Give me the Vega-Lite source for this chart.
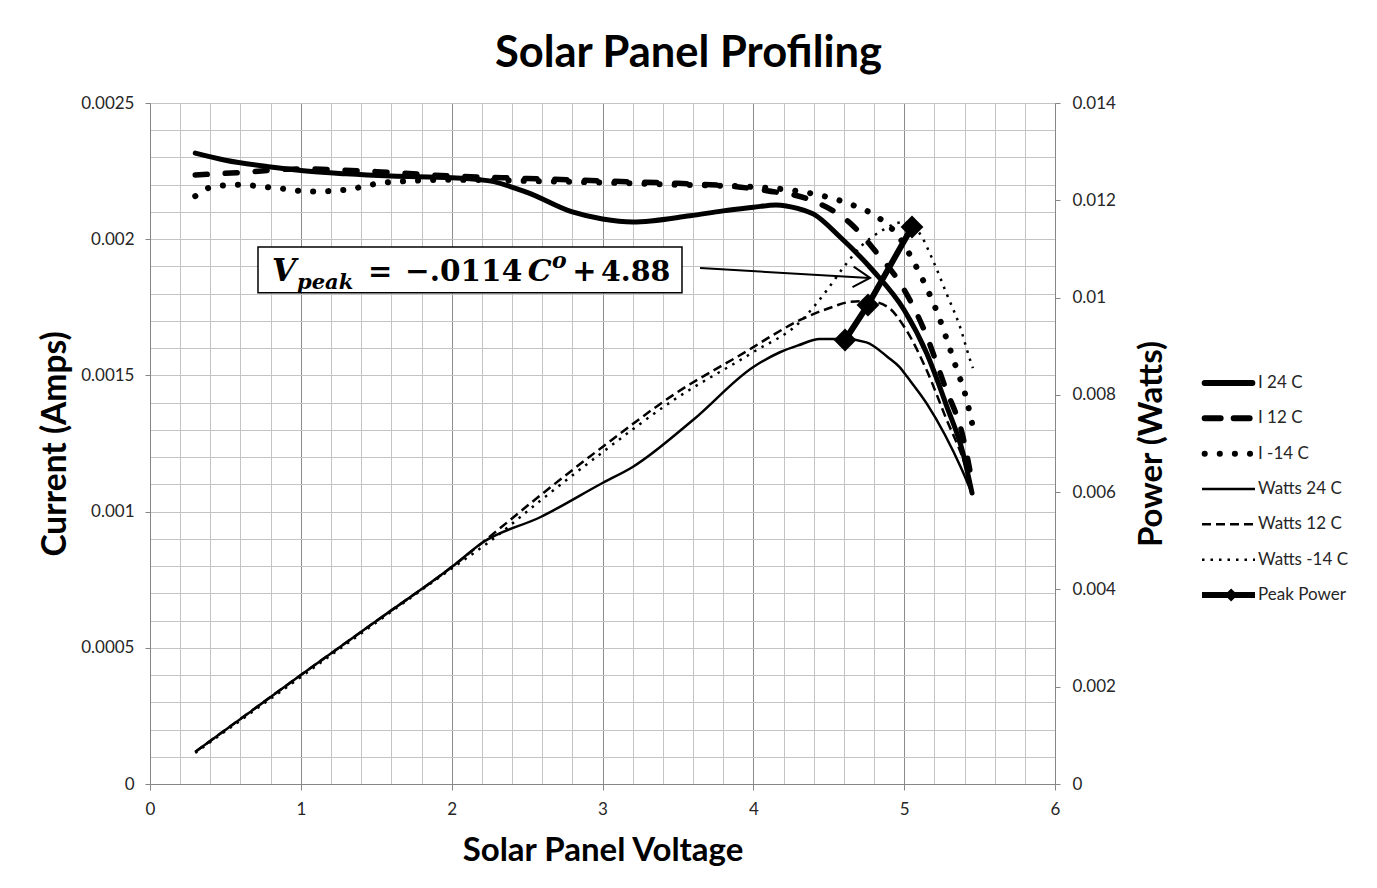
{
  "$schema": "https://vega.github.io/schema/vega-lite/v6.json",
  "width": 905,
  "height": 681,
  "autosize": {"type": "none"},
  "padding": {"left": 150, "top": 103, "right": 322, "bottom": 104},
  "background": "white",
  "config": {
    "font": "Lato",
    "view": {"stroke": "#868686", "strokeWidth": 1}
  },
  "title": {
    "text": "Solar Panel Profiling",
    "font": "Lato",
    "fontSize": 43.5,
    "fontWeight": "bold",
    "color": "black",
    "anchor": "middle",
    "frame": "group",
    "dx": 86,
    "offset": 18
  },
  "data": {
    "values": [
      {"series": "I 24 C", "voltage": 0.3, "value": 0.002316},
      {"series": "I 24 C", "voltage": 0.5, "value": 0.00229},
      {"series": "I 24 C", "voltage": 0.8, "value": 0.002265},
      {"series": "I 24 C", "voltage": 1.0, "value": 0.002252},
      {"series": "I 24 C", "voltage": 1.3, "value": 0.00224},
      {"series": "I 24 C", "voltage": 1.6, "value": 0.002232},
      {"series": "I 24 C", "voltage": 2.0, "value": 0.002226},
      {"series": "I 24 C", "voltage": 2.25, "value": 0.002214},
      {"series": "I 24 C", "voltage": 2.5, "value": 0.002172},
      {"series": "I 24 C", "voltage": 2.8, "value": 0.0021},
      {"series": "I 24 C", "voltage": 3.0, "value": 0.002074},
      {"series": "I 24 C", "voltage": 3.2, "value": 0.002063},
      {"series": "I 24 C", "voltage": 3.58, "value": 0.002086},
      {"series": "I 24 C", "voltage": 3.8, "value": 0.002104},
      {"series": "I 24 C", "voltage": 4.0, "value": 0.002117},
      {"series": "I 24 C", "voltage": 4.15, "value": 0.002126},
      {"series": "I 24 C", "voltage": 4.3, "value": 0.002112},
      {"series": "I 24 C", "voltage": 4.4, "value": 0.002092},
      {"series": "I 24 C", "voltage": 4.575, "value": 0.002008},
      {"series": "I 24 C", "voltage": 4.79, "value": 0.001887},
      {"series": "I 24 C", "voltage": 5.0, "value": 0.00174},
      {"series": "I 24 C", "voltage": 5.15, "value": 0.00158},
      {"series": "I 24 C", "voltage": 5.28, "value": 0.00139},
      {"series": "I 24 C", "voltage": 5.39, "value": 0.001215},
      {"series": "I 24 C", "voltage": 5.45, "value": 0.001068},

      {"series": "I 12 C", "voltage": 0.3, "value": 0.002236},
      {"series": "I 12 C", "voltage": 0.6, "value": 0.002245},
      {"series": "I 12 C", "voltage": 1.0, "value": 0.002258},
      {"series": "I 12 C", "voltage": 1.5, "value": 0.002248},
      {"series": "I 12 C", "voltage": 2.0, "value": 0.002232},
      {"series": "I 12 C", "voltage": 2.5, "value": 0.002223},
      {"series": "I 12 C", "voltage": 3.0, "value": 0.002214},
      {"series": "I 12 C", "voltage": 3.5, "value": 0.002205},
      {"series": "I 12 C", "voltage": 3.8, "value": 0.002197},
      {"series": "I 12 C", "voltage": 4.09, "value": 0.002178},
      {"series": "I 12 C", "voltage": 4.38, "value": 0.002144},
      {"series": "I 12 C", "voltage": 4.64, "value": 0.00206},
      {"series": "I 12 C", "voltage": 4.84, "value": 0.001935},
      {"series": "I 12 C", "voltage": 4.96, "value": 0.00185},
      {"series": "I 12 C", "voltage": 5.13, "value": 0.00167},
      {"series": "I 12 C", "voltage": 5.27, "value": 0.00146},
      {"series": "I 12 C", "voltage": 5.39, "value": 0.001274},
      {"series": "I 12 C", "voltage": 5.45, "value": 0.00111},

      {"series": "I -14 C", "voltage": 0.3, "value": 0.002158},
      {"series": "I -14 C", "voltage": 0.4, "value": 0.00219},
      {"series": "I -14 C", "voltage": 0.58, "value": 0.0022},
      {"series": "I -14 C", "voltage": 0.8, "value": 0.00219},
      {"series": "I -14 C", "voltage": 1.08, "value": 0.002175},
      {"series": "I -14 C", "voltage": 1.3, "value": 0.002182},
      {"series": "I -14 C", "voltage": 1.56, "value": 0.002208},
      {"series": "I -14 C", "voltage": 2.0, "value": 0.002218},
      {"series": "I -14 C", "voltage": 2.5, "value": 0.002214},
      {"series": "I -14 C", "voltage": 3.0, "value": 0.002208},
      {"series": "I -14 C", "voltage": 3.5, "value": 0.0022},
      {"series": "I -14 C", "voltage": 4.0, "value": 0.002192},
      {"series": "I -14 C", "voltage": 4.25, "value": 0.00218},
      {"series": "I -14 C", "voltage": 4.49, "value": 0.002155},
      {"series": "I -14 C", "voltage": 4.66, "value": 0.002125},
      {"series": "I -14 C", "voltage": 4.84, "value": 0.002075},
      {"series": "I -14 C", "voltage": 4.97, "value": 0.002005},
      {"series": "I -14 C", "voltage": 5.06, "value": 0.00192},
      {"series": "I -14 C", "voltage": 5.15, "value": 0.00182},
      {"series": "I -14 C", "voltage": 5.22, "value": 0.00173},
      {"series": "I -14 C", "voltage": 5.29, "value": 0.00162},
      {"series": "I -14 C", "voltage": 5.35, "value": 0.00152},
      {"series": "I -14 C", "voltage": 5.4, "value": 0.00144},
      {"series": "I -14 C", "voltage": 5.456, "value": 0.00131},

      {"series": "Watts 24 C", "voltage": 0.3, "value": 0.00066},
      {"series": "Watts 24 C", "voltage": 1.0, "value": 0.00224},
      {"series": "Watts 24 C", "voltage": 1.5, "value": 0.00335},
      {"series": "Watts 24 C", "voltage": 2.0, "value": 0.00446},
      {"series": "Watts 24 C", "voltage": 2.21, "value": 0.004975},
      {"series": "Watts 24 C", "voltage": 2.59, "value": 0.005489},
      {"series": "Watts 24 C", "voltage": 3.0, "value": 0.006188},
      {"series": "Watts 24 C", "voltage": 3.2, "value": 0.006517},
      {"series": "Watts 24 C", "voltage": 3.6, "value": 0.007483},
      {"series": "Watts 24 C", "voltage": 4.0, "value": 0.008573},
      {"series": "Watts 24 C", "voltage": 4.18, "value": 0.008881},
      {"series": "Watts 24 C", "voltage": 4.3, "value": 0.00902},
      {"series": "Watts 24 C", "voltage": 4.44, "value": 0.00915},
      {"series": "Watts 24 C", "voltage": 4.6, "value": 0.00915},
      {"series": "Watts 24 C", "voltage": 4.75, "value": 0.00908},
      {"series": "Watts 24 C", "voltage": 4.89, "value": 0.00878},
      {"series": "Watts 24 C", "voltage": 4.97, "value": 0.00857},
      {"series": "Watts 24 C", "voltage": 5.02, "value": 0.00837},
      {"series": "Watts 24 C", "voltage": 5.15, "value": 0.00782},
      {"series": "Watts 24 C", "voltage": 5.27, "value": 0.00718},
      {"series": "Watts 24 C", "voltage": 5.38, "value": 0.00648},
      {"series": "Watts 24 C", "voltage": 5.45, "value": 0.00597},

      {"series": "Watts 12 C", "voltage": 0.3, "value": 0.00066},
      {"series": "Watts 12 C", "voltage": 1.0, "value": 0.00224},
      {"series": "Watts 12 C", "voltage": 1.5, "value": 0.00335},
      {"series": "Watts 12 C", "voltage": 2.0, "value": 0.00446},
      {"series": "Watts 12 C", "voltage": 2.25, "value": 0.00508},
      {"series": "Watts 12 C", "voltage": 2.59, "value": 0.00594},
      {"series": "Watts 12 C", "voltage": 3.0, "value": 0.00693},
      {"series": "Watts 12 C", "voltage": 3.47, "value": 0.008},
      {"series": "Watts 12 C", "voltage": 4.0, "value": 0.00898},
      {"series": "Watts 12 C", "voltage": 4.13, "value": 0.00923},
      {"series": "Watts 12 C", "voltage": 4.31, "value": 0.00954},
      {"series": "Watts 12 C", "voltage": 4.5, "value": 0.00978},
      {"series": "Watts 12 C", "voltage": 4.64, "value": 0.00991},
      {"series": "Watts 12 C", "voltage": 4.76, "value": 0.00993},
      {"series": "Watts 12 C", "voltage": 4.89, "value": 0.00981},
      {"series": "Watts 12 C", "voltage": 5.0, "value": 0.0094},
      {"series": "Watts 12 C", "voltage": 5.15, "value": 0.0085},
      {"series": "Watts 12 C", "voltage": 5.28, "value": 0.0075},
      {"series": "Watts 12 C", "voltage": 5.4, "value": 0.0066},
      {"series": "Watts 12 C", "voltage": 5.45, "value": 0.0061},

      {"series": "Watts -14 C", "voltage": 0.3, "value": 0.00064},
      {"series": "Watts -14 C", "voltage": 1.0, "value": 0.0022},
      {"series": "Watts -14 C", "voltage": 1.5, "value": 0.00332},
      {"series": "Watts -14 C", "voltage": 2.0, "value": 0.00443},
      {"series": "Watts -14 C", "voltage": 2.25, "value": 0.00498},
      {"series": "Watts -14 C", "voltage": 2.59, "value": 0.00583},
      {"series": "Watts -14 C", "voltage": 3.0, "value": 0.00682},
      {"series": "Watts -14 C", "voltage": 3.47, "value": 0.00789},
      {"series": "Watts -14 C", "voltage": 4.0, "value": 0.00888},
      {"series": "Watts -14 C", "voltage": 4.31, "value": 0.0095},
      {"series": "Watts -14 C", "voltage": 4.49, "value": 0.01016},
      {"series": "Watts -14 C", "voltage": 4.6, "value": 0.01063},
      {"series": "Watts -14 C", "voltage": 4.71, "value": 0.01104},
      {"series": "Watts -14 C", "voltage": 4.86, "value": 0.01139},
      {"series": "Watts -14 C", "voltage": 4.99, "value": 0.01155},
      {"series": "Watts -14 C", "voltage": 5.1, "value": 0.01133},
      {"series": "Watts -14 C", "voltage": 5.19, "value": 0.01077},
      {"series": "Watts -14 C", "voltage": 5.28, "value": 0.01009},
      {"series": "Watts -14 C", "voltage": 5.37, "value": 0.0094},
      {"series": "Watts -14 C", "voltage": 5.437, "value": 0.00872},
      {"series": "Watts -14 C", "voltage": 5.456, "value": 0.00855},

      {"series": "Peak Power", "voltage": 4.608, "value": 0.009128},
      {"series": "Peak Power", "voltage": 4.76, "value": 0.009847},
      {"series": "Peak Power", "voltage": 5.052, "value": 0.011451}
    ]
  },
  "layer": [
    {
      "encoding": {
        "x": {
          "field": "voltage",
          "type": "quantitative",
          "scale": {"domain": [0, 6], "nice": false, "zero": false},
          "axis": {
            "title": "Solar Panel Voltage",
            "values": [0, 0.2, 0.4, 0.6, 0.8, 1, 1.2, 1.4, 1.6, 1.8, 2, 2.2, 2.4, 2.6, 2.8, 3, 3.2, 3.4, 3.6, 3.8, 4, 4.2, 4.4, 4.6, 4.8, 5, 5.2, 5.4, 5.6, 5.8, 6],
            "grid": true,
            "gridColor": {"condition": {"test": "abs(datum.value - round(datum.value)) < 0.001", "value": "#8c8c8c"}, "value": "#c4c4c4"},
            "gridWidth": 1,
            "domainColor": "#868686",
            "tickColor": "#868686",
            "tickSize": 6,
            "tickOpacity": {"condition": {"test": "abs(datum.value - round(datum.value)) < 0.001", "value": 1}, "value": 0},
            "labelExpr": "abs(datum.value - round(datum.value)) < 0.001 ? format(datum.value, '.0f') : ''",
            "labelFlush": false,
            "labelOverlap": false,
            "labelFont": "Lato",
            "labelFontSize": 17,
            "labelColor": "#262626",
            "labelPadding": 11,
            "titleFont": "Lato",
            "titleFontSize": 33,
            "titleFontWeight": "bold",
            "titleColor": "black",
            "titlePadding": 17
          }
        },
        "y": {
          "field": "value",
          "type": "quantitative",
          "scale": {"domain": [0, 0.0025], "nice": false, "zero": false},
          "axis": {
            "title": "Current (Amps)",
            "orient": "left",
            "values": [0, 0.0001, 0.0002, 0.0003, 0.0004, 0.0005, 0.0006, 0.0007, 0.0008, 0.0009, 0.001, 0.0011, 0.0012, 0.0013, 0.0014, 0.0015, 0.0016, 0.0017, 0.0018, 0.0019, 0.002, 0.0021, 0.0022, 0.0023, 0.0024, 0.0025],
            "grid": true,
            "gridColor": "#c4c4c4",
            "gridWidth": 1,
            "domainColor": "#868686",
            "tickColor": "#868686",
            "tickSize": 5,
            "tickOpacity": {"condition": {"test": "round(datum.value * 10000) % 5 === 0", "value": 1}, "value": 0},
            "labelExpr": "round(datum.value * 10000) % 5 === 0 ? format(datum.value, '~g') : ''",
            "labelOverlap": false,
            "labelFlush": false,
            "labelFont": "Lato",
            "labelFontSize": 17,
            "labelColor": "#262626",
            "labelPadding": 11,
            "titleFont": "Lato",
            "titleFontSize": 33.5,
            "titleFontWeight": "bold",
            "titleColor": "black",
            "titlePadding": 8
          }
        }
      },
      "layer": [
        {
          "transform": [{"filter": "datum.series === 'I 24 C'"}],
          "mark": {"type": "line", "color": "black", "strokeWidth": 5, "strokeCap": "round", "interpolate": "monotone"}
        },
        {
          "transform": [{"filter": "datum.series === 'I 12 C'"}],
          "mark": {"type": "line", "color": "black", "strokeWidth": 5.5, "strokeCap": "round", "strokeDash": [12, 18], "interpolate": "monotone"}
        },
        {
          "transform": [{"filter": "datum.series === 'I -14 C'"}],
          "mark": {"type": "line", "color": "black", "strokeWidth": 6, "strokeCap": "round", "strokeDash": [0.1, 15], "interpolate": "monotone"}
        }
      ]
    },
    {
      "transform": [{"aggregate": [{"op": "count", "as": "n"}]}],
      "layer": [
        {
          "mark": {"type": "rect", "fill": "white", "stroke": "black", "strokeWidth": 1.5},
          "encoding": {
            "x": {"datum": 0.716, "scale": {"domain": [0, 6], "nice": false, "zero": false}, "axis": null},
            "x2": {"datum": 3.527},
            "y": {"datum": 0.001971, "scale": {"domain": [0, 0.0025], "nice": false, "zero": false}, "axis": null},
            "y2": {"datum": 0.001803}
          }
        },
        {
          "mark": {"type": "text", "text": "V", "font": "DejaVu Serif", "fontSize": 31, "fontWeight": "bold", "fontStyle": "italic", "align": "left", "baseline": "alphabetic", "color": "black"},
          "encoding": {"x": {"datum": 0.809, "axis": null}, "y": {"datum": 0.001847, "axis": null}}
        },
        {
          "mark": {"type": "text", "text": "peak", "font": "DejaVu Serif", "fontSize": 21, "fontWeight": "bold", "fontStyle": "italic", "align": "left", "baseline": "alphabetic", "color": "black"},
          "encoding": {"x": {"datum": 0.975, "axis": null}, "y": {"datum": 0.001817, "axis": null}}
        },
        {
          "mark": {"type": "text", "text": "=", "font": "DejaVu Serif", "fontSize": 29, "fontWeight": "bold", "align": "left", "baseline": "alphabetic", "color": "black"},
          "encoding": {"x": {"datum": 1.445, "axis": null}, "y": {"datum": 0.001847, "axis": null}}
        },
        {
          "mark": {"type": "text", "text": "−.0114", "font": "DejaVu Serif", "fontSize": 29.5, "fontWeight": "bold", "align": "left", "baseline": "alphabetic", "color": "black"},
          "encoding": {"x": {"datum": 1.691, "axis": null}, "y": {"datum": 0.001847, "axis": null}}
        },
        {
          "mark": {"type": "text", "text": "C", "font": "DejaVu Serif", "fontSize": 30, "fontWeight": "bold", "fontStyle": "italic", "align": "left", "baseline": "alphabetic", "color": "black"},
          "encoding": {"x": {"datum": 2.505, "axis": null}, "y": {"datum": 0.001847, "axis": null}}
        },
        {
          "mark": {"type": "text", "text": "o", "font": "DejaVu Serif", "fontSize": 22, "fontWeight": "bold", "fontStyle": "italic", "align": "left", "baseline": "alphabetic", "color": "black"},
          "encoding": {"x": {"datum": 2.665, "axis": null}, "y": {"datum": 0.001894, "axis": null}}
        },
        {
          "mark": {"type": "text", "text": "+", "font": "DejaVu Serif", "fontSize": 29, "fontWeight": "bold", "align": "left", "baseline": "alphabetic", "color": "black"},
          "encoding": {"x": {"datum": 2.8, "axis": null}, "y": {"datum": 0.001847, "axis": null}}
        },
        {
          "mark": {"type": "text", "text": "4.88", "font": "DejaVu Serif", "fontSize": 28.5, "fontWeight": "bold", "align": "left", "baseline": "alphabetic", "color": "black"},
          "encoding": {"x": {"datum": 2.99, "axis": null}, "y": {"datum": 0.001847, "axis": null}}
        },
        {
          "mark": {"type": "rule", "color": "black", "strokeWidth": 2},
          "encoding": {
            "x": {"datum": 3.647, "axis": null},
            "x2": {"datum": 4.77},
            "y": {"datum": 0.001894, "axis": null},
            "y2": {"datum": 0.001858}
          }
        },
        {
          "mark": {"type": "point", "shape": "M-1,-0.6L0,0L-1,0.6", "size": 1156, "filled": false, "stroke": "black", "strokeWidth": 2, "angle": 3.4, "opacity": 1},
          "encoding": {"x": {"datum": 4.774, "axis": null}, "y": {"datum": 0.001858, "axis": null}}
        }
      ]
    },
    {
      "encoding": {
        "x": {
          "field": "voltage",
          "type": "quantitative",
          "scale": {"domain": [0, 6], "nice": false, "zero": false},
          "axis": null
        },
        "y": {
          "field": "value",
          "type": "quantitative",
          "scale": {"domain": [0, 0.014], "nice": false, "zero": false},
          "axis": {
            "title": "Power (Watts)",
            "orient": "right",
            "values": [0, 0.002, 0.004, 0.006, 0.008, 0.01, 0.012, 0.014],
            "grid": false,
            "domainColor": "#868686",
            "tickColor": "#868686",
            "tickSize": 5,
            "labelExpr": "format(datum.value, '~g')",
            "labelOverlap": false,
            "labelFlush": false,
            "labelFont": "Lato",
            "labelFontSize": 17,
            "labelColor": "#262626",
            "labelPadding": 12,
            "titleFont": "Lato",
            "titleFontSize": 33,
            "titleFontWeight": "bold",
            "titleColor": "black",
            "titleAngle": 270,
            "titleBaseline": "top",
            "titlePadding": 20
          }
        }
      },
      "layer": [
        {
          "transform": [{"filter": "datum.series === 'Watts 24 C'"}],
          "mark": {"type": "line", "color": "black", "strokeWidth": 2.5, "interpolate": "monotone"}
        },
        {
          "transform": [{"filter": "datum.series === 'Watts 12 C'"}],
          "mark": {"type": "line", "color": "black", "strokeWidth": 2.5, "strokeDash": [9, 5], "interpolate": "monotone"}
        },
        {
          "transform": [{"filter": "datum.series === 'Watts -14 C'"}],
          "mark": {"type": "line", "color": "black", "strokeWidth": 2.5, "strokeDash": [2.5, 6], "interpolate": "monotone"}
        },
        {
          "transform": [{"filter": "datum.series === 'Peak Power'"}],
          "mark": {"type": "line", "color": "black", "strokeWidth": 6}
        },
        {
          "transform": [{"filter": "datum.series === 'Peak Power'"}],
          "mark": {"type": "point", "shape": "diamond", "size": 520, "filled": true, "color": "black", "opacity": 1}
        }
      ]
    },
    {
      "transform": [{"aggregate": [{"op": "count", "as": "n"}], "groupby": ["series"]}],
      "encoding": {
        "y": {
          "field": "series",
          "type": "nominal",
          "scale": {"type": "point", "domain": ["I 24 C", "I 12 C", "I -14 C", "Watts 24 C", "Watts 12 C", "Watts -14 C", "Peak Power"], "range": [280, 492], "padding": 0},
          "axis": null
        }
      },
      "layer": [
        {
          "transform": [{"filter": {"field": "series", "oneOf": ["I 24 C", "I 12 C", "I -14 C"]}}],
          "mark": {"type": "rule", "color": "black", "strokeWidth": 6, "strokeCap": "round"},
          "encoding": {
            "x": {"datum": 0.05, "scale": {"domain": [0, 1], "range": [1052, 1105]}, "axis": null},
            "x2": {"datum": 0.95},
            "strokeDash": {
              "field": "series",
              "type": "nominal",
              "scale": {"domain": ["I 24 C", "I 12 C", "I -14 C", "Watts 24 C", "Watts 12 C", "Watts -14 C", "Peak Power"], "range": [[1, 0], [16, 13], [0.1, 15], [1, 0], [9, 5], [2.5, 6], [1, 0]]},
              "legend": null
            }
          }
        },
        {
          "transform": [{"filter": {"field": "series", "oneOf": ["Watts 24 C", "Watts 12 C", "Watts -14 C"]}}],
          "mark": {"type": "rule", "color": "black", "strokeWidth": 2.5},
          "encoding": {
            "x": {"datum": 0, "axis": null},
            "x2": {"datum": 1},
            "strokeDash": {"field": "series", "type": "nominal", "legend": null}
          }
        },
        {
          "transform": [{"filter": "datum.series === 'Peak Power'"}],
          "mark": {"type": "rule", "color": "black", "strokeWidth": 6},
          "encoding": {"x": {"datum": 0, "axis": null}, "x2": {"datum": 1}}
        },
        {
          "transform": [{"filter": "datum.series === 'Peak Power'"}],
          "mark": {"type": "point", "shape": "diamond", "size": 170, "filled": true, "color": "black", "opacity": 1},
          "encoding": {"x": {"datum": 0.55, "axis": null}}
        },
        {
          "mark": {"type": "text", "align": "left", "baseline": "middle", "dx": 3, "font": "Lato", "fontSize": 17, "color": "#262626"},
          "encoding": {"x": {"datum": 1, "axis": null}, "text": {"field": "series"}}
        }
      ]
    }
  ],
  "resolve": {"scale": {"x": "independent", "y": "independent"}}
}
